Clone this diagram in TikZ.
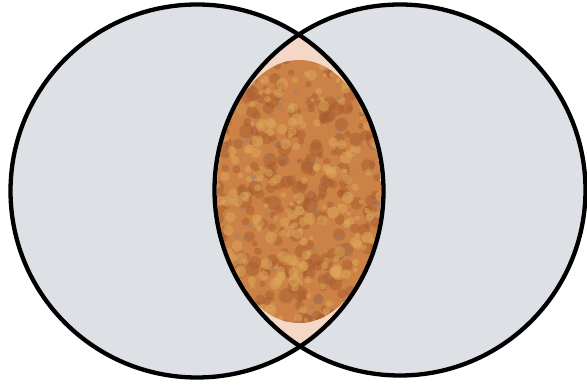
\documentclass[tikz,border=0pt]{standalone}
\definecolor{bgray}{RGB}{221,224,228}
\definecolor{peach}{RGB}{245,215,200}
\definecolor{orbase}{RGB}{204,130,70}
\definecolor{ordark}{RGB}{170,92,48}
\definecolor{orlight}{RGB}{220,168,90}
\definecolor{orgray}{RGB}{150,128,120}
\tikzset{
  ring/.style={draw=black, line width=4.3pt},
  blob/.style={opacity=0.5},
}
\begin{document}
\begin{tikzpicture}[x=1pt,y=1pt]
\useasboundingbox (0,0) rectangle (587,385);
\coordinate (cl) at (197,194);
\coordinate (cr) at (400,195);
\coordinate (lens) at (299,193.5);
% circle fills
\fill[bgray] (cl) circle (186.5);
\fill[bgray] (cr) circle (185.5);
% lens
\begin{scope}
  \clip (cl) circle (186.5);
  \fill[peach] (cr) circle (185.5);
  \clip (cr) circle (185.5);
  \clip (lens) ellipse (82 and 131.5);
  \fill[orbase] (lens) ellipse (82 and 131.5);
  \pgfmathsetseed{11}
  \foreach \i in {1,...,300}{
    \pgfmathsetmacro\px{215+170*rnd}
    \pgfmathsetmacro\py{60+268*rnd}
    \pgfmathsetmacro\pr{2.5+5*rnd}
    \fill[ordark,blob] (\px,\py) circle (\pr);
  }
  \foreach \i in {1,...,260}{
    \pgfmathsetmacro\px{215+170*rnd}
    \pgfmathsetmacro\py{60+268*rnd}
    \pgfmathsetmacro\pr{2+4*rnd}
    \fill[orlight,blob] (\px,\py) circle (\pr);
  }
  \foreach \i in {1,...,160}{
    \pgfmathsetmacro\px{215+170*rnd}
    \pgfmathsetmacro\py{60+268*rnd}
    \pgfmathsetmacro\pr{0.8+1.8*rnd}
    \fill[orgray,opacity=0.45] (\px,\py) circle (\pr);
  }
\end{scope}
% outlines
\draw[ring] (cl) circle (186.5);
\draw[ring] (cr) circle (185.5);
\end{tikzpicture}
\end{document}
